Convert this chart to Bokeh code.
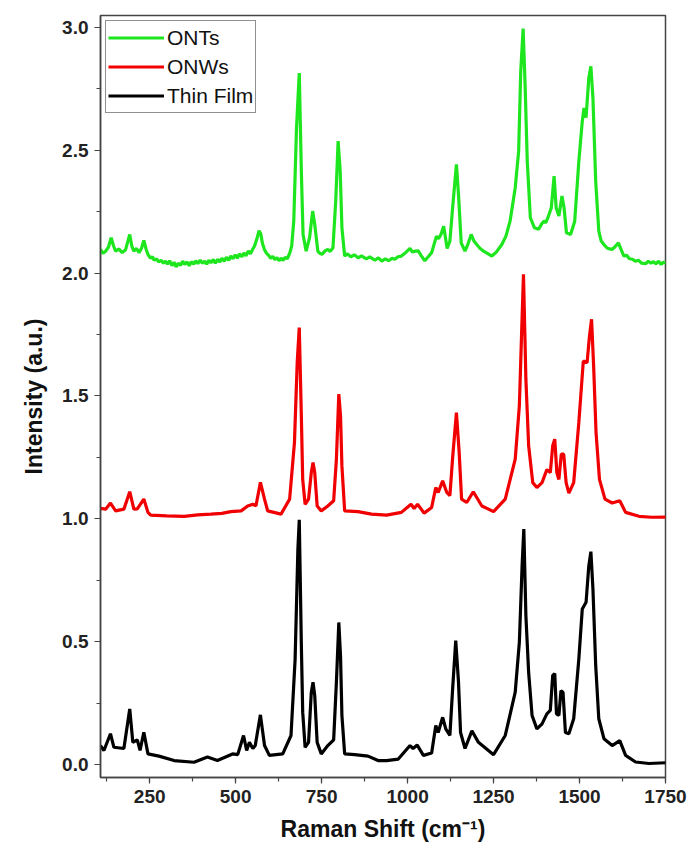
from bokeh.plotting import figure
from bokeh.models import SingleIntervalTicker, NumeralTickFormatter, Range1d, Legend, LegendItem
from bokeh.embed import file_html
from bokeh.resources import INLINE

# ---------------- data ----------------
# Thin Film (black)
film_x = [107, 117, 136, 146, 175, 192, 201, 214, 222, 233, 245, 277, 321, 379, 418, 447, 491, 506,
          523, 532, 540, 550, 557, 572, 584, 598, 637, 661, 673, 681, 685, 691, 695, 702, 712, 720,
          725, 730, 737, 749, 768, 785, 793, 800, 805, 809, 817, 846, 885, 914, 939,
          973, 1007, 1016, 1028, 1046, 1070, 1082, 1089, 1102, 1111, 1123, 1131, 1140, 1148, 1154,
          1167, 1187, 1206, 1250, 1284, 1313, 1325, 1333, 1338, 1344, 1352, 1362, 1376, 1391, 1405,
          1415, 1422, 1428, 1433, 1440, 1446, 1452, 1459, 1469, 1483, 1498, 1508, 1519, 1527, 1533,
          1539, 1547, 1556, 1571, 1595, 1617, 1634, 1663, 1702, 1751]
film_y = [0.077, 0.057, 0.125, 0.070, 0.065, 0.226, 0.090, 0.100, 0.057, 0.131, 0.043, 0.034, 0.016,
          0.009, 0.030, 0.016, 0.043, 0.040, 0.118, 0.057, 0.090, 0.065, 0.077, 0.202, 0.077, 0.037,
          0.043, 0.118, 0.430, 0.877, 0.996, 0.490, 0.213, 0.070, 0.090, 0.294, 0.335, 0.280, 0.090,
          0.043, 0.077, 0.100, 0.335, 0.578, 0.440, 0.200, 0.043, 0.040, 0.034, 0.016, 0.016,
          0.022, 0.077, 0.065, 0.079, 0.037, 0.047, 0.159, 0.130, 0.192, 0.145, 0.118, 0.308, 0.504,
          0.336, 0.130, 0.065, 0.137, 0.090, 0.040, 0.118, 0.294, 0.497, 0.809, 0.958, 0.606, 0.375,
          0.199, 0.145, 0.165, 0.206, 0.220, 0.362, 0.370, 0.206, 0.200, 0.300, 0.294, 0.130, 0.125,
          0.186, 0.430, 0.633, 0.660, 0.809, 0.866, 0.714, 0.403, 0.186, 0.105, 0.077, 0.097, 0.037,
          0.010, 0.004, 0.007]

# ONWs (red)
onw_x = [107, 122, 136, 151, 175, 192, 204, 214, 233, 245, 253, 300, 350, 390, 428, 460, 486, 516,
         535, 550, 559, 572, 584, 593, 632, 657, 671, 679, 685, 691, 695, 702, 712, 720, 725, 730,
         737, 749, 768, 785, 793, 800, 805, 809, 817, 856, 895, 939,
         982, 1010, 1019, 1029, 1048, 1070, 1082, 1089, 1102, 1114, 1123, 1131, 1142, 1150, 1157,
         1172, 1191, 1216, 1250, 1284, 1313, 1325, 1331, 1337, 1344, 1352, 1364, 1376, 1391, 1405,
         1415, 1422, 1428, 1434, 1440, 1447, 1454, 1461, 1469, 1483, 1498, 1511, 1522, 1529, 1535,
         1541, 1548, 1558, 1574, 1595, 1617, 1634, 1673, 1710, 1751]
onw_y = [1.042, 1.039, 1.064, 1.032, 1.039, 1.110, 1.039, 1.040, 1.080, 1.026, 1.015, 1.012, 1.010,
         1.016, 1.019, 1.022, 1.029, 1.032, 1.052, 1.059, 1.052, 1.148, 1.080, 1.032, 1.019, 1.080,
         1.310, 1.635, 1.778, 1.419, 1.160, 1.059, 1.080, 1.188, 1.229, 1.188, 1.052, 1.032, 1.052,
         1.073, 1.243, 1.507, 1.419, 1.215, 1.032, 1.029, 1.019, 1.015,
         1.026, 1.059, 1.042, 1.059, 1.023, 1.046, 1.127, 1.107, 1.154, 1.107, 1.094, 1.249, 1.432,
         1.270, 1.080, 1.066, 1.110, 1.052, 1.029, 1.080, 1.243, 1.459, 1.730, 1.995, 1.568, 1.297,
         1.147, 1.127, 1.147, 1.200, 1.188, 1.297, 1.324, 1.188, 1.160, 1.263, 1.263, 1.147, 1.104,
         1.147, 1.392, 1.642, 1.635, 1.744, 1.812, 1.622, 1.351, 1.160, 1.080, 1.064, 1.073, 1.026,
         1.010, 1.006, 1.007]

# ONTs (green, noisy baseline read point by point)
ont_x = [107, 114, 122, 130, 138, 145, 151, 160, 170, 180, 192, 198, 204, 212, 219, 226, 233, 240,
         245, 252, 258, 263, 270, 276, 283, 290, 296, 302, 308, 315, 321, 327, 333, 340, 346, 352,
         359, 365, 371, 378, 384, 390, 397, 403, 410, 416, 422, 428, 435, 441, 448, 454, 460, 467,
         473, 480, 486, 492, 499, 505, 511, 518, 524, 530, 537, 543, 550, 555, 562, 568, 573, 578,
         584, 590, 596, 602, 608, 614, 620, 626, 632, 638, 644, 650, 657, 663, 669, 677, 685, 691,
         696, 705, 715, 724, 730, 739, 745, 751, 760, 768, 775, 783, 791, 798, 804, 809, 817, 825,
         835, 845, 856, 866, 880, 890, 905, 915, 925, 935, 945, 955,
         963, 972, 982, 992, 1007, 1014, 1021, 1031, 1040, 1050, 1060, 1070, 1084, 1090, 1097, 1105,
         1115, 1123, 1131, 1142, 1148, 1156, 1167, 1176, 1185, 1193, 1201, 1211, 1221, 1232, 1245,
         1258, 1274, 1286, 1298, 1313, 1323, 1329, 1336, 1342, 1348, 1357, 1369, 1381, 1390, 1396,
         1402, 1408, 1418, 1426, 1432, 1440, 1449, 1455, 1462, 1474, 1486, 1498, 1508, 1513, 1519,
         1527, 1533, 1539, 1547, 1556, 1563, 1571, 1580, 1588, 1595, 1604, 1613, 1621, 1629, 1637,
         1645, 1654, 1662, 1672, 1680, 1692, 1700, 1708, 1715, 1722, 1730, 1737, 1744, 1751]
ont_y = [2.096, 2.080, 2.089, 2.105, 2.144, 2.110, 2.089, 2.098, 2.083, 2.095, 2.157, 2.110, 2.089,
         2.100, 2.083, 2.100, 2.133, 2.095, 2.076, 2.060, 2.066, 2.052, 2.058, 2.045, 2.052, 2.040,
         2.048, 2.036, 2.050, 2.030, 2.044, 2.025, 2.040, 2.032, 2.048, 2.035, 2.045, 2.030, 2.046,
         2.036, 2.050, 2.038, 2.052, 2.040, 2.048, 2.036, 2.052, 2.042, 2.055, 2.040, 2.056, 2.045,
         2.060, 2.048, 2.064, 2.052, 2.070, 2.058, 2.074, 2.060, 2.078, 2.066, 2.082, 2.070, 2.090,
         2.078, 2.098, 2.110, 2.140, 2.172, 2.160, 2.120, 2.095, 2.080, 2.072, 2.060, 2.068, 2.055,
         2.063, 2.050, 2.060, 2.052, 2.064, 2.058, 2.080, 2.110, 2.211, 2.591, 2.814, 2.415, 2.157,
         2.089, 2.144, 2.252, 2.198, 2.089, 2.080, 2.076, 2.090, 2.096, 2.088, 2.103, 2.293, 2.537,
         2.415, 2.185, 2.069, 2.078, 2.066, 2.074, 2.062, 2.070, 2.058, 2.066, 2.052, 2.062, 2.048,
         2.058, 2.050, 2.060,
         2.056, 2.066, 2.069, 2.080, 2.100, 2.085, 2.089, 2.090, 2.070, 2.050, 2.066, 2.083, 2.150,
         2.140, 2.157, 2.190, 2.100, 2.130, 2.266, 2.442, 2.320, 2.122, 2.089, 2.120, 2.157, 2.130,
         2.116, 2.100, 2.089, 2.080, 2.069, 2.085, 2.116, 2.150, 2.211, 2.347, 2.496, 2.821, 2.995,
         2.753, 2.455, 2.225, 2.184, 2.178, 2.200, 2.211, 2.205, 2.225, 2.266, 2.394, 2.266, 2.232,
         2.313, 2.266, 2.164, 2.157, 2.211, 2.455, 2.618, 2.672, 2.632, 2.794, 2.841, 2.712, 2.374,
         2.171, 2.130, 2.116, 2.102, 2.098, 2.096, 2.108, 2.123, 2.095, 2.069, 2.072, 2.058, 2.056,
         2.048, 2.052, 2.040, 2.038, 2.048, 2.040, 2.046, 2.038, 2.048, 2.035, 2.044, 2.041]

series_names = ["ONTs", "ONWs", "Thin Film"]
series_colors = ["#1ee61e", "#f00000", "#000000"]

x_ticks_interval = 250
y_ticks_interval = 0.5

# ---------------- figure ----------------
p = figure(width=689, height=852, output_backend="svg", toolbar_location=None,
           x_range=Range1d(107, 1750), y_range=Range1d(-0.053, 3.048),
           min_border_left=100, min_border_right=24, min_border_top=15, min_border_bottom=75)

p.background_fill_color = "white"
p.border_fill_color = "white"
p.grid.visible = False
p.outline_line_color = "#444444"
p.outline_line_width = 1.5

r_film = p.line(film_x, film_y, line_color=series_colors[2], line_width=3.2)
r_onw = p.line(onw_x, onw_y, line_color=series_colors[1], line_width=3.2)
r_ont = p.line(ont_x, ont_y, line_color=series_colors[0], line_width=3.2)

font = "Liberation Sans"
for ax in (p.xaxis[0], p.yaxis[0]):
    ax.axis_line_color = "#444444"
    ax.axis_line_width = 1.5
    ax.major_tick_line_color = "#444444"
    ax.minor_tick_line_color = "#444444"
    ax.major_tick_line_width = 1.2
    ax.minor_tick_line_width = 1.2
    ax.major_tick_in = 0
    ax.major_tick_out = 6
    ax.minor_tick_in = 0
    ax.minor_tick_out = 4
    ax.major_label_text_font = font
    ax.major_label_text_font_style = "bold"
    ax.major_label_text_font_size = "19px"
    ax.major_label_text_color = "#222222"
    ax.axis_label_text_font = font
    ax.axis_label_text_font_style = "bold"
    ax.axis_label_text_font_size = "23px"
    ax.axis_label_text_color = "#111111"

p.xaxis[0].ticker = SingleIntervalTicker(interval=x_ticks_interval, num_minor_ticks=2)
p.yaxis[0].ticker = SingleIntervalTicker(interval=y_ticks_interval, num_minor_ticks=2)
p.yaxis[0].formatter = NumeralTickFormatter(format="0.0")
p.xaxis[0].axis_label = "Raman Shift (cm\u207b\u00b9)"
p.yaxis[0].axis_label = "Intensity (a.u.)"
p.xaxis[0].axis_label_standoff = 10
p.yaxis[0].axis_label_standoff = 12
p.xaxis[0].major_label_standoff = 6
p.yaxis[0].major_label_standoff = 6

legend = Legend(items=[LegendItem(label=series_names[0], renderers=[r_ont]),
                       LegendItem(label=series_names[1], renderers=[r_onw]),
                       LegendItem(label=series_names[2], renderers=[r_film])],
                location="top_left")
legend.margin = 5
legend.padding = 2
legend.spacing = 0
legend.glyph_width = 56
legend.glyph_height = 29
legend.label_height = 29
legend.label_standoff = 3
legend.label_text_font = font
legend.label_text_font_size = "21px"
legend.label_text_color = "#111111"
legend.border_line_color = "#222222"
legend.border_line_width = 1
legend.background_fill_alpha = 1.0
p.add_layout(legend)

open("out.html", "w").write(file_html(p, INLINE))
